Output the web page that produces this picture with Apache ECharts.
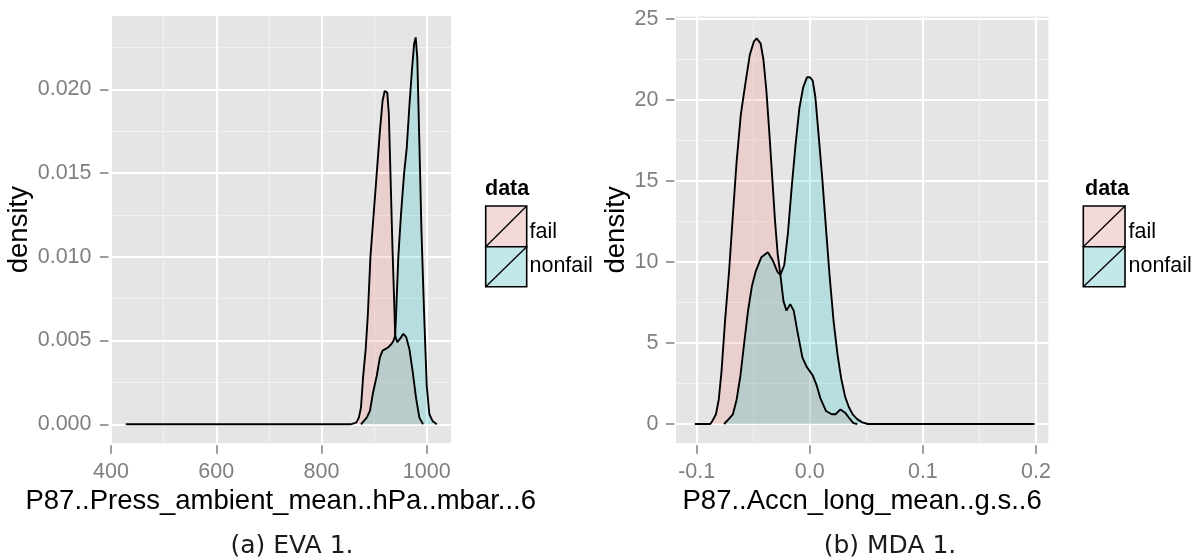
<!DOCTYPE html>
<html><head><meta charset="utf-8">
<script src="https://cdn.jsdelivr.net/npm/echarts@6/dist/echarts.min.js"></script>
<style>html,body{margin:0;padding:0;background:#fff}#c{width:1198px;height:560px}</style>
</head><body><div id="c"></div>
<script>
// ---------- data ----------
const groups = ['fail', 'nonfail'];
const captions = ['(a) EVA 1.', '(b) MDA 1.'];
const xTitles = ['P87..Press_ambient_mean..hPa..mbar...6', 'P87..Accn_long_mean..g.s..6'];
const yTitle = 'density';

const evaTicksX = [400, 600, 800, 1000];
const evaMinorX = [500, 700, 900];
const evaTicksY = [0, 0.005, 0.01, 0.015, 0.02];
const evaMinorY = [0.0025, 0.0075, 0.0125, 0.0175, 0.0225];

const evaFailX = [428, 855, 866, 871, 875, 879, 884, 888, 893, 899, 905, 911, 916, 920, 922, 925, 928, 931, 935, 938.5, 940, 944, 949, 955.5, 961, 967, 973, 980, 986, 993];
const evaFailY = [0, 0, 0.0001, 0.0004, 0.0010, 0.0028, 0.0045, 0.0065, 0.0100, 0.0125, 0.0150, 0.0175, 0.0193, 0.0199, 0.0200, 0.0198, 0.0185, 0.0150, 0.0104, 0.0070, 0.0053, 0.0049, 0.0051, 0.0054, 0.0052, 0.0045, 0.0032, 0.0015, 0.0004, 0];
const evaNonfailX = [875, 886, 892, 898, 905, 911, 916, 922, 927, 933, 937, 940, 942, 946, 951, 957, 962, 967, 972, 976, 979, 982, 986, 990, 995, 1000, 1005, 1011, 1019];
const evaNonfailY = [0, 0.0004, 0.0008, 0.0019, 0.0029, 0.0040, 0.0044, 0.0045, 0.0046, 0.0048, 0.0050, 0.0053, 0.0068, 0.0100, 0.0125, 0.0150, 0.0165, 0.0190, 0.0212, 0.0227, 0.0231, 0.0219, 0.0168, 0.0115, 0.0066, 0.0023, 0.0006, 0.0002, 0];

const mdaTicksX = [-0.1, 0, 0.1, 0.2];
const mdaMinorX = [-0.05, 0.05, 0.15];
const mdaTicksY = [0, 5, 10, 15, 20, 25];
const mdaMinorY = [2.5, 7.5, 12.5, 17.5, 22.5];

const mdaFailX = [-0.1017, -0.088, -0.086, -0.083, -0.0805, -0.078, -0.075, -0.0714, -0.068, -0.0647, -0.061, -0.057, -0.053, -0.0495, -0.047, -0.0435, -0.041, -0.0384, -0.0358, -0.0331, -0.0307, -0.0284, -0.026, -0.0233, -0.0206, -0.0173, -0.0142, -0.0109, -0.0065, -0.0025, 0.0026, 0.006, 0.0093, 0.0144, 0.0194, 0.0228, 0.0271, 0.0312, 0.0345, 0.0386, 0.042];
const mdaFailY = [0, 0, 0.2, 0.6, 1.5, 3.3, 6.3, 9.4, 12.9, 16.2, 19.1, 21.0, 22.8, 23.6, 23.8, 23.5, 22.5, 20.6, 18.0, 15.1, 12.5, 10.5, 9.2, 7.6, 7.0, 7.4, 7.0, 5.7, 4.1, 3.5, 3.0, 2.4, 1.6, 0.8, 0.6, 0.6, 0.9, 0.7, 0.4, 0.05, 0];
const mdaNonfailX = [-0.0758, -0.0731, -0.068, -0.0647, -0.0613, -0.058, -0.0546, -0.0512, -0.0479, -0.0428, -0.0371, -0.0327, -0.0287, -0.026, -0.0226, -0.0193, -0.0159, -0.0125, -0.0092, -0.0058, -0.0025, 0.0002, 0.0026, 0.0049, 0.0076, 0.0111, 0.0144, 0.0177, 0.0211, 0.0245, 0.0278, 0.0312, 0.0345, 0.0379, 0.0419, 0.0463, 0.0514, 0.1987];
const mdaNonfailY = [0, 0.2, 0.6, 1.5, 3.0, 5.0, 7.0, 8.5, 9.4, 10.3, 10.6, 10.1, 9.4, 9.2, 9.8, 11.8, 14.7, 17.3, 19.5, 20.8, 21.4, 21.4, 21.2, 20.2, 18.0, 15.1, 12.0, 9.0, 6.3, 4.3, 2.8, 1.7, 1.05, 0.6, 0.3, 0.1, 0, 0];

// ---------- styling ----------
const FONT = '"Liberation Sans", Arial, Helvetica, sans-serif';
const fillColors = ['rgba(248,118,109,0.2)', 'rgba(0,191,196,0.2)'];
const keyColors = ['rgb(243,217,215)', 'rgb(194,232,233)'];
const tickGrey = '#7F7F7F';

const pairs = (xs, ys) => xs.map((x, i) => [x, ys[i]]);

const panels = [
  { grid: { left: 110.5, top: 16, width: 340.5, height: 427.3 },
    xr: [399, 1046.1], yr: [-0.001134, 0.024376],
    tx: evaTicksX, mx: evaMinorX, ty: evaTicksY, my: evaMinorY,
    fx: v => String(v), fy: v => (+v).toFixed(3),
    yNameGap: 72, yOffset: 2, yMargin: 17,
    series: [pairs(evaFailX, evaFailY), pairs(evaNonfailX, evaNonfailY)] },
  { grid: { left: 676, top: 16.5, width: 372.3, height: 426.8 },
    xr: [-0.1183, 0.2109], yr: [-1.191, 25.154],
    tx: mdaTicksX, mx: mdaMinorX, ty: mdaTicksY, my: mdaMinorY,
    fx: v => (+v).toFixed(1), fy: v => String(Math.round(v)),
    yNameGap: 37, yOffset: 1.5, yMargin: 16,
    series: [pairs(mdaFailX, mdaFailY), pairs(mdaNonfailX, mdaNonfailY)] }
];

const grids = [], xAxes = [], yAxes = [], series = [];
panels.forEach((p, gi) => {
  grids.push(Object.assign({ show: true, backgroundColor: '#E5E5E5', borderWidth: 0, containLabel: false, outerBoundsMode: 'none' }, p.grid));
  // minor x
  xAxes.push({ type: 'value', gridIndex: gi, min: p.xr[0], max: p.xr[1], position: 'bottom',
    axisLine: { show: false, onZero: false }, axisTick: { show: false, customValues: p.mx },
    axisLabel: { show: false, customValues: p.mx },
    splitLine: { show: true, lineStyle: { color: '#F2F2F2', width: 1 } } });
  // major x
  xAxes.push({ type: 'value', gridIndex: gi, min: p.xr[0], max: p.xr[1], position: 'bottom', offset: 2,
    axisLine: { show: false, onZero: false },
    axisTick: { show: true, length: 8.5, customValues: p.tx, lineStyle: { color: tickGrey, width: 1.5 } },
    axisLabel: { show: true, customValues: p.tx, formatter: p.fx, color: tickGrey, fontSize: 21.5, fontFamily: FONT, margin: 15.5 },
    splitLine: { show: true, lineStyle: { color: '#FFFFFF', width: 2 } },
    name: xTitles[gi], nameLocation: 'middle', nameGap: 42,
    nameTextStyle: { color: '#000', fontSize: 27.5, fontFamily: FONT } });
  // minor y
  yAxes.push({ type: 'value', gridIndex: gi, min: p.yr[0], max: p.yr[1], position: 'left',
    axisLine: { show: false, onZero: false }, axisTick: { show: false, customValues: p.my },
    axisLabel: { show: false, customValues: p.my },
    splitLine: { show: true, lineStyle: { color: '#F2F2F2', width: 1 } } });
  // major y
  yAxes.push({ type: 'value', gridIndex: gi, min: p.yr[0], max: p.yr[1], position: 'left', offset: p.yOffset,
    axisLine: { show: false, onZero: false },
    axisTick: { show: true, length: 8.5, customValues: p.ty, lineStyle: { color: tickGrey, width: 1.5 } },
    axisLabel: { show: true, customValues: p.ty, formatter: p.fy, color: tickGrey, fontSize: 21.5, fontFamily: FONT, margin: p.yMargin },
    splitLine: { show: true, lineStyle: { color: '#FFFFFF', width: 2 } },
    name: yTitle, nameLocation: 'middle', nameGap: p.yNameGap,
    nameTextStyle: { color: '#000', fontSize: 27.5, fontFamily: FONT } });
  p.series.forEach((d, si) => {
    series.push({ type: 'line', name: groups[si], xAxisIndex: gi * 2 + 1, yAxisIndex: gi * 2 + 1,
      data: d, showSymbol: false, symbol: 'none', smooth: false, silent: true, clip: true,
      lineStyle: { color: '#000', width: 1.9 },
      areaStyle: { color: fillColors[si], origin: 'auto', opacity: 1 } });
  });
});

// ---------- legends & captions (graphics) ----------
function legend(boxX, boxW, titleX, labelX) {
  const els = [];
  els.push({ type: 'text', style: { text: 'data', x: titleX, y: 189, font: 'bold 21.5px ' + FONT, fill: '#000',
    align: 'left', verticalAlign: 'middle', textAlign: 'left', textVerticalAlign: 'middle' } });
  const tops = [206, 246.7], hs = [40.7, 40], labY = [232, 266];
  groups.forEach((g, i) => {
    const y = tops[i], h = hs[i];
    els.push({ type: 'rect', shape: { x: boxX, y: y, width: boxW, height: h },
      style: { fill: keyColors[i], stroke: '#000', lineWidth: 1.6 } });
    els.push({ type: 'line', shape: { x1: boxX, y1: y + h, x2: boxX + boxW, y2: y },
      style: { stroke: '#000', lineWidth: 1.3 } });
    els.push({ type: 'text', style: { text: g, x: labelX, y: labY[i], font: '21.5px ' + FONT, fill: '#000',
      align: 'left', verticalAlign: 'middle', textAlign: 'left', textVerticalAlign: 'middle' } });
  });
  return els;
}
const graphics = [].concat(
  legend(485.7, 41, 485, 529.5),
  legend(1083.3, 41.7, 1085, 1128.5),
  [[292, captions[0]], [890, captions[1]]].map(([cx, t]) => ({ type: 'text',
    style: { text: t, x: cx, y: 546, font: '25px "DejaVu Sans", sans-serif', fill: '#1a1a1a',
      align: 'center', verticalAlign: 'middle', textAlign: 'center', textVerticalAlign: 'middle' } }))
);

const chart = echarts.init(document.getElementById('c'), null, { renderer: 'canvas' });
chart.setOption({
  animation: false,
  backgroundColor: '#FFFFFF',
  grid: grids, xAxis: xAxes, yAxis: yAxes, series: series,
  graphic: { elements: graphics }
});
</script></body></html>
